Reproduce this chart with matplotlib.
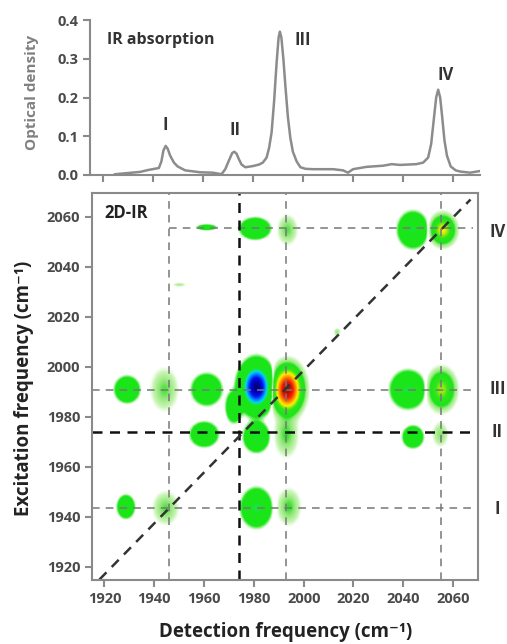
import numpy as np
import matplotlib
matplotlib.use("Agg")
import matplotlib.pyplot as plt
from matplotlib.colors import LinearSegmentedColormap, Normalize

plt.rcParams['font.family'] = ['Open Sans', 'DejaVu Sans']

# IR absorption spectrum (cm-1, optical density)
ir_freq = [1925, 1930, 1935, 1938.3, 1941.6, 1942.5, 1943.5, 1944.3, 1945.2, 1946, 1947, 1948.5,
           1950, 1953, 1959, 1964, 1967.5, 1969, 1970.5, 1971.8, 1972.6, 1973.5, 1974.5, 1975.5,
           1977, 1980, 1982.5, 1984, 1985.5, 1986.5, 1987.5, 1988.5, 1989.5, 1990.3, 1990.8,
           1991.4, 1992.2, 1993, 1994, 1995, 1996, 1997.5, 1999, 2001, 2004, 2012, 2016, 2018,
           2020, 2025.4, 2032, 2035.5, 2038.7, 2045.3, 2048, 2050, 2051.2, 2052.2, 2053.2, 2054,
           2054.8, 2055.6, 2056.5, 2057.5, 2059, 2061, 2062.7, 2066.7, 2070.5]
ir_od = [0.002, 0.005, 0.008, 0.013, 0.017, 0.018, 0.035, 0.063, 0.075, 0.068, 0.05, 0.032,
         0.022, 0.012, 0.007, 0.006, 0.002, 0.015, 0.038, 0.057, 0.06, 0.055, 0.04, 0.027,
         0.02, 0.023, 0.027, 0.032, 0.045, 0.07, 0.11, 0.19, 0.29, 0.355, 0.37,
         0.355, 0.30, 0.23, 0.15, 0.095, 0.06, 0.035, 0.02, 0.016, 0.015, 0.015, 0.012, 0.006,
         0.015, 0.021, 0.024, 0.028, 0.026, 0.028, 0.032, 0.045, 0.08, 0.14, 0.2, 0.22,
         0.2, 0.15, 0.09, 0.05, 0.022, 0.012, 0.009, 0.006, 0.01]

peak_names = ['I', 'II', 'III', 'IV']
peak_label_x = [1945, 1973, 2000, 2057]
peak_label_od = [0.129, 0.116, 0.348, 0.258]

# 2D-IR features: centre detection, centre excitation, amplitude, width x, width y
blob_x = [1929, 1944, 1961, 1981, 1972, 1993.5,
          1960, 1981, 1993, 2044, 2055,
          2042, 2055.5,
          1961, 1980.5, 1993.5, 2044, 2056,
          1928.5, 1944.5, 1981, 1994,
          1950, 2013.5]
blob_y = [1991, 1991, 1991, 1992, 1984, 1991,
          1973, 1972, 1973, 1972, 1973,
          1991, 1991,
          2056, 2055.5, 2055, 2055, 2055,
          1944, 1943.5, 1943.6, 1944,
          2033, 2014]
blob_amp = [-0.2, 0.045, -0.22, -1.0, -0.15, 0.9,
            -0.22, -0.24, 0.05, -0.2, 0.035,
            -0.26, 0.24,
            -0.1, -0.24, 0.045, -0.25, 0.3,
            -0.2, 0.045, -0.27, 0.05,
            0.025, 0.03]
blob_sx = [2.3, 3.0, 2.7, 3.0, 1.6, 2.9,
           2.5, 2.3, 2.6, 1.9, 1.8,
           3.1, 2.7,
           2.0, 2.7, 2.2, 2.7, 2.5,
           1.6, 2.8, 2.7, 2.6,
           1.6, 0.8]
blob_sy = [2.4, 4.6, 2.8, 4.4, 3.0, 4.4,
           2.2, 2.7, 4.8, 2.0, 2.8,
           3.3, 3.8,
           0.6, 1.9, 3.2, 3.2, 2.9,
           2.1, 3.6, 3.4, 3.9,
           0.5, 1.0]

cross_x = [1946, 1993, 2055]
cross_y = [2055.5, 1991, 1943.5]
mark_freq = 1974

jet_white = LinearSegmentedColormap.from_list('jet_white', [
    (0.00, (0.0, 0.0, 0.5)),
    (0.15, (0.0, 0.05, 0.95)),
    (0.25, (0.0, 0.5, 1.0)),
    (0.32, (0.0, 0.85, 0.95)),
    (0.37, (0.1, 0.9, 0.2)),
    (0.40, (0.1, 0.9, 0.1)),
    (0.488, (0.1, 0.9, 0.1)),
    (0.493, (0.65, 0.95, 0.6)),
    (0.496, (1.0, 1.0, 1.0)),
    (0.503, (1.0, 1.0, 1.0)),
    (0.507, (0.78, 0.96, 0.7)),
    (0.518, (0.55, 0.9, 0.45)),
    (0.526, (0.1, 0.9, 0.1)),
    (0.58, (0.2, 0.9, 0.1)),
    (0.65, (1.0, 0.95, 0.0)),
    (0.74, (1.0, 0.5, 0.0)),
    (0.84, (0.95, 0.1, 0.0)),
    (1.00, (0.6, 0.0, 0.0)),
], N=2048)

fig = plt.figure(figsize=(5.07, 6.44), dpi=100)
grey = '#8a8a8a'
tick_col = '#4a4a4a'

# ---- top: IR absorption
ax1 = fig.add_axes([90 / 507, 1 - 175 / 644, 390 / 507, 155 / 644])
ax1.plot(ir_freq, ir_od, color='#8c8c8c', lw=1.8)
ax1.set_xlim(1915, 2070.7)
ax1.set_ylim(0, 0.4)
ax1.set_yticks([0.0, 0.1, 0.2, 0.3, 0.4])
ax1.set_yticklabels(['0.0', '0.1', '0.2', '0.3', '0.4'])
ax1.set_xticks(range(1920, 2061, 20))
ax1.set_xticklabels([])
for s in ['top', 'right']:
    ax1.spines[s].set_visible(False)
for s in ['left', 'bottom']:
    ax1.spines[s].set_color(grey)
    ax1.spines[s].set_linewidth(1.5)
ax1.tick_params(direction='out', length=5, width=1.5, color=grey, labelcolor=tick_col, labelsize=10.5)
for lab in ax1.get_yticklabels():
    lab.set_fontweight('bold')
ax1.text(1921.8, 0.348, 'IR absorption', fontsize=11.5, fontweight='bold', color='#333333', va='center')
for name, px, py in zip(peak_names, peak_label_x, peak_label_od):
    ax1.text(px, py, name, fontsize=12, fontweight='bold', color='#333333', ha='center', va='center')
fig.text(32 / 507, 1 - 92 / 644, 'Optical density', rotation=90, fontsize=11, fontweight='bold',
         color='#808080', ha='center', va='center')

# ---- bottom: 2D-IR map
ax2 = fig.add_axes([92 / 507, 1 - 580 / 644, 386 / 507, 387 / 644])
gx = np.linspace(1915, 2070, 500)
gy = np.linspace(1914.8, 2069.6, 500)
X, Y = np.meshgrid(gx, gy)
Z = np.zeros_like(X)
for bx, by, a, sx, sy in zip(blob_x, blob_y, blob_amp, blob_sx, blob_sy):
    Z += a * np.exp(-((X - bx) ** 2 / (2 * sx ** 2) + (Y - by) ** 2 / (2 * sy ** 2)))
ax2.imshow(Z, extent=[gx[0], gx[-1], gy[0], gy[-1]], origin='lower', cmap=jet_white,
           norm=Normalize(-1, 1), aspect='auto', interpolation='bilinear')

for cx in cross_x:
    ax2.axvline(cx, color='#777777', lw=1.1, ls=(0, (5, 4)))
ax2.plot([1946, 2068], [cross_y[0], cross_y[0]], color='#777777', lw=1.1, ls=(0, (5, 4)))
ax2.axhline(cross_y[1], color='#777777', lw=1.1, ls=(0, (5, 4)))
ax2.axhline(cross_y[2], color='#777777', lw=1.1, ls=(0, (5, 4)))
ax2.axvline(mark_freq, color='#111111', lw=1.8, ls=(0, (4, 3)))
ax2.axhline(mark_freq, color='#111111', lw=1.8, ls=(0, (4, 3)))
ax2.plot([1918, 2067], [1915, 2067], color='#333333', lw=1.8, ls=(0, (4, 3)))

ax2.set_xlim(1915, 2070)
ax2.set_ylim(1914.8, 2069.6)
ax2.set_xticks(range(1920, 2061, 20))
ax2.set_yticks(range(1920, 2061, 20))
for s in ax2.spines.values():
    s.set_color(grey)
    s.set_linewidth(1.5)
ax2.tick_params(direction='out', length=5, width=1.5, color=grey, labelcolor=tick_col, labelsize=10.5)
for lab in ax2.get_xticklabels() + ax2.get_yticklabels():
    lab.set_fontweight('bold')
ax2.text(1919.8, 2061.6, '2D-IR', fontsize=12, fontweight='bold', color='#222222', va='center')
for name, yy in zip(['IV', 'III', 'II', 'I'], [2054, 1991, 1974, 1943]):
    ax2.text(1.05, yy, name, transform=ax2.get_yaxis_transform(), fontsize=12, fontweight='bold',
             color='#333333', ha='center', va='center', clip_on=False)

fig.text(286 / 507, 1 - 632 / 644, 'Detection frequency (cm⁻¹)', fontsize=13.5, fontweight='bold',
         color='#222222', ha='center', va='center')
fig.text(24 / 507, 1 - 388 / 644, 'Excitation frequency (cm⁻¹)', rotation=90, fontsize=13.5,
         fontweight='bold', color='#222222', ha='center', va='center')

fig.savefig('out.png', dpi=100)
